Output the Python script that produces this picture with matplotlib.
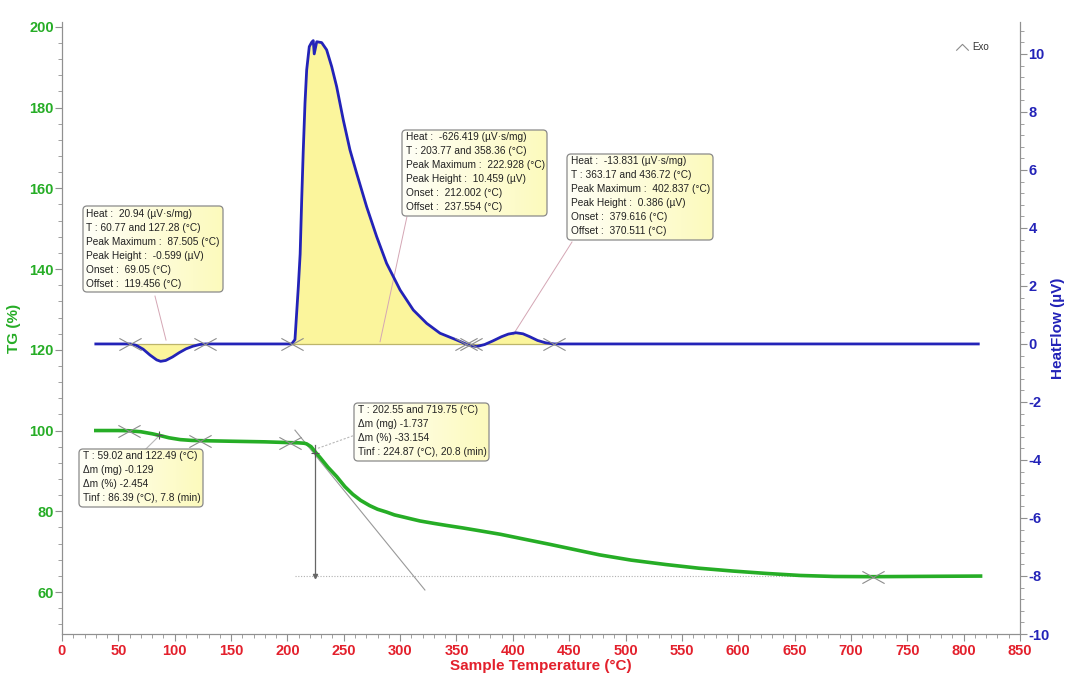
import matplotlib
matplotlib.use('Agg')
import matplotlib.pyplot as plt
import numpy as np
from matplotlib.path import Path
from matplotlib.patches import FancyBboxPatch
from matplotlib.transforms import IdentityTransform
from matplotlib.ticker import MultipleLocator

plt.rcParams['font.family'] = ['Liberation Sans', 'DejaVu Sans']
plt.rcParams['axes.unicode_minus'] = False

# TG curve: sample temperature (°C) -> mass (%)
tg_temp = [30, 50, 59.02, 70, 80, 86.39, 95, 105, 115, 122.49, 150, 180, 202.55,
           210, 215, 217, 221, 225, 229, 236, 243.7, 251, 258, 265, 273, 280,
           288, 295, 302.6, 310, 317.6, 330, 341, 355, 370, 389, 410, 433, 455,
           477, 505, 536, 565, 595, 625, 655, 685, 719.75, 750, 780, 815]
tg_mass = [100.0, 100.0, 99.95, 99.7, 99.2, 98.8, 98.2, 97.75, 97.55, 97.5, 97.35,
           97.2, 97.0, 96.95, 96.85, 96.7, 96.0, 94.6, 93.3, 90.9, 88.6, 86.1,
           84.2, 82.7, 81.4, 80.5, 79.8, 79.1, 78.6, 78.1, 77.6, 77.0, 76.5, 75.9,
           75.2, 74.3, 73.1, 71.8, 70.5, 69.2, 67.9, 66.8, 65.9, 65.2, 64.6, 64.1,
           63.85, 63.8, 63.85, 63.9, 63.95]

# DSC heat flow (µV)
hf_temp = [30, 55, 60.77, 66, 72, 78, 84, 87.505, 92, 98, 104, 110, 116, 122,
           127.28, 150, 180, 203.77, 206.7, 209.7, 211.3, 212.7, 214, 215.6,
           217.1, 219.4, 221.5, 222.928, 223.8, 226, 230.4, 234.8, 239.3, 243.7,
           249.6, 255.5, 261.4, 270.3, 279.2, 288, 300, 311.7, 323.6, 335.4, 350,
           358.36, 363.17, 368, 375, 382, 390, 396, 402.837, 409, 415, 422, 429,
           436.72, 460, 813]
hf_val = [0, 0, 0, -0.05, -0.18, -0.38, -0.55, -0.599, -0.57, -0.45, -0.3, -0.17,
          -0.08, -0.02, 0, 0, 0, 0, 0.15, 1.98, 3.1, 5.0, 6.6, 8.3, 9.45, 10.25,
          10.40, 10.459, 10.0, 10.42, 10.39, 10.14, 9.56, 8.87, 7.72, 6.69, 5.89,
          4.73, 3.70, 2.78, 1.86, 1.17, 0.71, 0.37, 0.14, 0.0, -0.06, -0.09,
          -0.02, 0.1, 0.25, 0.34, 0.386, 0.35, 0.25, 0.12, 0.04, 0, 0, 0]

# integration limits of the DSC peaks (°C)
peak_limits = [(60.77, 127.28), (203.77, 358.36), (363.17, 436.72)]

# TG step limits and inflection points
step_temp = [59.02, 122.49, 202.55, 719.75]
step_mass = [100.0, 97.5, 97.0, 63.8]
tinf_temp = [86.39, 224.87]
tinf_mass = [98.8, 94.4]
final_mass = 63.95
tangent_temp = [206.7, 322.0]
tangent_mass = [100.1, 60.5]

peak_texts = [
    "Heat :  20.94 (µV·s/mg)\nT : 60.77 and 127.28 (°C)\nPeak Maximum :  87.505 (°C)\n"
    "Peak Height :  -0.599 (µV)\nOnset :  69.05 (°C)\nOffset :  119.456 (°C)",
    "Heat :  -626.419 (µV·s/mg)\nT : 203.77 and 358.36 (°C)\nPeak Maximum :  222.928 (°C)\n"
    "Peak Height :  10.459 (µV)\nOnset :  212.002 (°C)\nOffset :  237.554 (°C)",
    "Heat :  -13.831 (µV·s/mg)\nT : 363.17 and 436.72 (°C)\nPeak Maximum :  402.837 (°C)\n"
    "Peak Height :  0.386 (µV)\nOnset :  379.616 (°C)\nOffset :  370.511 (°C)",
]
step_texts = [
    "T : 59.02 and 122.49 (°C)\nΔm (mg) -0.129\nΔm (%) -2.454\nTinf : 86.39 (°C), 7.8 (min)",
    "T : 202.55 and 719.75 (°C)\nΔm (mg) -1.737\nΔm (%) -33.154\nTinf : 224.87 (°C), 20.8 (min)",
]
# text anchors (°C, TG %) and leader lines
peak_pos = [(21.3, 154.9), (305.2, 173.9), (451.6, 168.0)]
peak_leaders = [((82.5, 133.3), (92.3, 122.4)),
                ((306.0, 152.9), (282.2, 122.0)),
                ((452.5, 146.7), (400.2, 123.7))]
step_pos = [(18.6, 94.9), (262.6, 106.3)]
step_leaders = [((73.6, 95.2), (85.2, 98.4)),
                ((258.2, 98.7), (226.0, 95.5))]

green = '#26ad26'
blue = '#2323b8'
red = '#e3202c'
grey = '#8c8c8c'

cross = Path([(-1, -0.55), (1, 0.55), (-1, 0.55), (1, -0.55)],
             [Path.MOVETO, Path.LINETO, Path.MOVETO, Path.LINETO])
chevron = Path([(-1, -0.5), (0, 0.5), (1, -0.5)],
               [Path.MOVETO, Path.LINETO, Path.LINETO])

fig = plt.figure(figsize=(10.68, 6.8), dpi=100)
ax = fig.add_axes([62 / 1068, 46 / 680, 958 / 1068, 612 / 680])
ax2 = ax.twinx()

ax.set_xlim(0, 850)
ax.set_ylim(49.6, 201.2)
ax2.set_ylim(-10, 11.1)

# heat flow with shaded peak areas
t = np.array(hf_temp)
v = np.array(hf_val)
for lo, hi in peak_limits:
    sel = (t >= lo) & (t <= hi)
    ax2.fill_between(t[sel], v[sel], 0, color='#fbf59c', lw=0, zorder=1)
    ax2.plot([lo, hi], [0, 0], color='#bdb56a', lw=0.9, zorder=2)
ax2.plot(hf_temp, hf_val, color=blue, lw=2.0, zorder=3)
for lo, hi in peak_limits:
    ax2.plot([lo, hi], [0, 0], ls='none', marker=cross, ms=16, mew=0.8,
             mec=grey, mfc='none', zorder=4)

# TG curve
ax2.plot(tg_temp, tg_mass, color=green, lw=2.6, transform=ax.transData, zorder=3)
ax2.plot(step_temp, step_mass, ls='none', marker=cross, ms=16, mew=0.8,
         mec=grey, mfc='none', transform=ax.transData, zorder=4)
ax2.plot(tinf_temp, tinf_mass, ls='none', marker='+', ms=6, mew=0.8,
         mec='#555555', transform=ax.transData, zorder=5)
ax2.plot(tangent_temp, tangent_mass, color='#999999', lw=0.8,
         transform=ax.transData, zorder=2)
ax2.plot([tinf_temp[1], tinf_temp[1]], [tinf_mass[1] + 2.0, final_mass],
         color='#666666', lw=0.9, transform=ax.transData, zorder=2)
ax2.plot([tinf_temp[1]], [final_mass], marker='v', ms=3, color='#666666',
         transform=ax.transData, zorder=2)
ax2.plot([tinf_temp[1] - 18, step_temp[3] + 10], [final_mass, final_mass],
         color='#b0b0b0', lw=0.8, ls=(0, (1, 1.5)), transform=ax.transData, zorder=1)

# leader lines from the result boxes
for p0, p1 in peak_leaders:
    ax2.plot([p0[0], p1[0]], [p0[1], p1[1]], color='#d4a6b4', lw=0.7,
             transform=ax.transData, zorder=2)
for i, (p0, p1) in enumerate(step_leaders):
    ax2.plot([p0[0], p1[0]], [p0[1], p1[1]], color='#b8b8b8', lw=0.8,
             ls=(0, (2, 1.5)) if i else '-', transform=ax.transData, zorder=2)

# result texts live on the figure so their boxes sit above both axes
labels = []
for txt, (x, y) in zip(peak_texts + step_texts, peak_pos + step_pos):
    labels.append(fig.text(x, y, txt, transform=ax.transData, ha='left', va='top',
                           fontsize=7.3, color='#222222', linespacing=1.5, zorder=8))

# Exo direction hint
ax2.plot([798.6], [195.0], marker=chevron, ms=9, mew=0.8, mec=grey, mfc='none',
         ls='none', transform=ax.transData)
ax2.text(808, 195.0, 'Exo', transform=ax.transData, fontsize=7, color='#333333',
         va='center', ha='left')

# axes styling
for a in (ax, ax2):
    a.spines['top'].set_visible(False)
    for s in ('left', 'right', 'bottom'):
        a.spines[s].set_color('#909090')
ax.xaxis.set_major_locator(MultipleLocator(50))
ax.xaxis.set_minor_locator(MultipleLocator(10))
ax.yaxis.set_major_locator(MultipleLocator(20))
ax.yaxis.set_minor_locator(MultipleLocator(4))
ax2.yaxis.set_major_locator(MultipleLocator(2))
ax2.yaxis.set_minor_locator(MultipleLocator(0.4))
ax.set_yticks(range(60, 201, 20))

ax.tick_params(axis='x', which='major', length=5, color='#909090', labelcolor=red,
               labelsize=10.5, pad=2)
ax.tick_params(axis='x', which='minor', length=3, color='#909090')
ax.tick_params(axis='y', which='major', length=5, color='#909090', labelcolor=green,
               labelsize=10.5, pad=1)
ax.tick_params(axis='y', which='minor', length=3, color='#909090')
ax2.tick_params(axis='y', which='major', length=5, color='#909090', labelcolor=blue,
                labelsize=10.5, pad=1)
ax2.tick_params(axis='y', which='minor', length=3, color='#909090')
for lab in ax.get_xticklabels() + ax.get_yticklabels() + ax2.get_yticklabels():
    lab.set_fontweight('bold')

ax.set_xlabel('Sample Temperature (°C)', color=red, fontsize=11, fontweight='bold',
              labelpad=1)
ax.set_ylabel('TG (%)', color=green, fontsize=11, fontweight='bold', labelpad=6)
ax2.set_ylabel('HeatFlow (µV)', color=blue, fontsize=11, fontweight='bold',
               labelpad=1)

# rounded boxes with a white-to-yellow gradient behind each result text
fig.canvas.draw()
renderer = fig.canvas.get_renderer()
for lab in labels:
    bb = lab.get_window_extent(renderer)
    x0, y0 = int(bb.x0) - 3, int(bb.y0) - 3
    w, h = int(bb.width) + 7, int(bb.height) + 6
    style = 'round,pad=0,rounding_size=4'
    ramp = np.linspace(0, 1, w)[None, :, None]
    c0 = np.array([1.0, 1.0, 0.97])
    c1 = np.array([0.99, 0.98, 0.74])
    grad = np.repeat(c0 + (c1 - c0) * ramp, h, axis=0)
    img = fig.figimage(grad, xo=x0, yo=y0, origin='lower', zorder=6)
    clip = FancyBboxPatch((x0, y0), w, h, boxstyle=style, transform=IdentityTransform())
    img.set_clip_path(clip)
    fig.add_artist(FancyBboxPatch((x0, y0), w, h, boxstyle=style, fc='none',
                                  ec='#8a8a8a', lw=0.9, transform=IdentityTransform(),
                                  zorder=7))

fig.savefig('out.png', dpi=100)
